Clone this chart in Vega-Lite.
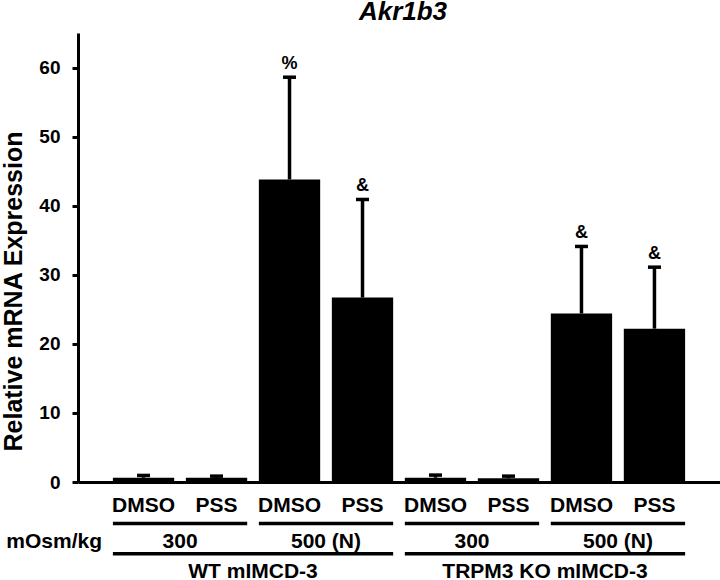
{
  "$schema": "https://vega.github.io/schema/vega-lite/v6.json",
  "width": 642,
  "height": 449,
  "autosize": {"type": "none"},
  "padding": {"left": 78, "top": 33, "right": 0, "bottom": 98},
  "background": "white",
  "config": {"view": {"stroke": null}, "font": "Liberation Sans"},
  "title": {"text": "Akr1b3", "font": "Liberation Sans", "fontSize": 26, "fontWeight": "bold", "fontStyle": "italic", "anchor": "middle", "baseline": "bottom", "offset": 6, "dy": 24, "dx": 4, "frame": "group", "color": "black"},
  "datasets": {
    "bars": [
      {"cond": "WT|300", "trt": "DMSO", "mean": 0.62, "upper": 0.95},
      {"cond": "WT|300", "trt": "PSS", "mean": 0.6, "upper": 0.85},
      {"cond": "WT|500", "trt": "DMSO", "mean": 43.8, "upper": 58.6, "note": "%"},
      {"cond": "WT|500", "trt": "PSS", "mean": 26.7, "upper": 40.9, "note": "&"},
      {"cond": "KO|300", "trt": "DMSO", "mean": 0.62, "upper": 1.0},
      {"cond": "KO|300", "trt": "PSS", "mean": 0.55, "upper": 0.85},
      {"cond": "KO|500", "trt": "DMSO", "mean": 24.4, "upper": 34.1, "note": "&"},
      {"cond": "KO|500", "trt": "PSS", "mean": 22.2, "upper": 31.1, "note": "&"}
    ],
    "groups": [
      {"cond": "WT|300", "osm": "300"},
      {"cond": "WT|500", "osm": "500 (N)"},
      {"cond": "KO|300", "osm": "300"},
      {"cond": "KO|500", "osm": "500 (N)"}
    ],
    "lines": [
      {"a": "WT|300", "b": "WT|500", "line": "WT mIMCD-3"},
      {"a": "KO|300", "b": "KO|500", "line": "TRPM3 KO mIMCD-3"}
    ],
    "rowlab": [{"cond": "WT|300", "label": "mOsm/kg"}]
  },
  "layer": [
    {
      "data": {"name": "bars"},
      "mark": {"type": "bar", "color": "black"},
      "encoding": {
        "x": {"field": "cond", "type": "nominal", "sort": null, "title": null,
          "scale": {"domain": ["WT|300", "WT|500", "KO|300", "KO|500"], "paddingInner": 0, "paddingOuter": 0.199},
          "axis": {"title": null, "labels": false, "ticks": false, "domainWidth": 3, "domainColor": "black", "grid": false}},
        "xOffset": {"field": "trt", "type": "nominal", "scale": {"domain": ["DMSO", "PSS"], "paddingInner": 0.16, "paddingOuter": 0.08}},
        "y": {"field": "mean", "type": "quantitative", "title": "Relative mRNA Expression",
          "scale": {"domain": [0, 65], "nice": false},
          "axis": {"title": "Relative mRNA Expression", "values": [0, 10, 20, 30, 40, 50, 60], "grid": false,
            "domainWidth": 3, "domainColor": "black", "tickColor": "black", "tickWidth": 3, "tickSize": 6,
            "labelFont": "Liberation Sans", "labelFontSize": 19, "labelFontWeight": "bold", "labelColor": "black", "labelPadding": 12,
            "titleFont": "Liberation Sans", "titleFontSize": 25, "titleFontWeight": "bold", "titleColor": "black", "titlePadding": 12, "titleY": 258}}
      }
    },
    {
      "data": {"name": "bars"},
      "mark": {"type": "rule", "color": "black", "strokeWidth": 3.5},
      "encoding": {
        "x": {"field": "cond", "type": "nominal", "sort": null, "title": null},
        "xOffset": {"field": "trt", "type": "nominal"},
        "y": {"field": "mean", "type": "quantitative", "title": "Relative mRNA Expression"},
        "y2": {"field": "upper"}
      }
    },
    {
      "data": {"name": "bars"},
      "mark": {"type": "tick", "color": "black", "thickness": 3.5, "size": 13, "opacity": 1},
      "encoding": {
        "x": {"field": "cond", "type": "nominal", "sort": null, "title": null},
        "xOffset": {"field": "trt", "type": "nominal"},
        "y": {"field": "upper", "type": "quantitative", "title": "Relative mRNA Expression"}
      }
    },
    {
      "data": {"name": "bars"},
      "transform": [{"filter": "isValid(datum.note)"}],
      "mark": {"type": "text", "color": "black", "font": "Liberation Sans", "fontSize": 18, "fontWeight": "bold", "baseline": "alphabetic", "dy": -8},
      "encoding": {
        "x": {"field": "cond", "type": "nominal", "sort": null, "title": null},
        "xOffset": {"field": "trt", "type": "nominal"},
        "y": {"field": "upper", "type": "quantitative", "title": "Relative mRNA Expression"},
        "text": {"field": "note"}
      }
    },
    {
      "data": {"name": "bars"},
      "mark": {"type": "text", "color": "black", "font": "Liberation Sans", "fontSize": 21, "fontWeight": "bold", "baseline": "alphabetic"},
      "encoding": {
        "x": {"field": "cond", "type": "nominal", "sort": null, "title": null},
        "xOffset": {"field": "trt", "type": "nominal"},
        "y": {"datum": -4.4, "type": "quantitative", "title": "Relative mRNA Expression"},
        "text": {"field": "trt"}
      }
    },
    {
      "data": {"name": "groups"},
      "mark": {"type": "rule", "color": "black", "strokeWidth": 3.5},
      "encoding": {
        "x": {"field": "cond", "type": "nominal", "sort": null, "bandPosition": 0.04, "title": null},
        "x2": {"field": "cond", "bandPosition": 0.96},
        "y": {"datum": -6.0, "type": "quantitative", "title": "Relative mRNA Expression"}
      }
    },
    {
      "data": {"name": "groups"},
      "mark": {"type": "text", "color": "black", "font": "Liberation Sans", "fontSize": 21, "fontWeight": "bold", "baseline": "alphabetic"},
      "encoding": {
        "x": {"field": "cond", "type": "nominal", "sort": null, "title": null},
        "y": {"datum": -9.6, "type": "quantitative", "title": "Relative mRNA Expression"},
        "text": {"field": "osm"}
      }
    },
    {
      "data": {"name": "rowlab"},
      "mark": {"type": "text", "color": "black", "font": "Liberation Sans", "fontSize": 21, "fontWeight": "bold", "baseline": "alphabetic", "align": "right", "dx": -5},
      "encoding": {
        "x": {"field": "cond", "type": "nominal", "sort": null, "bandPosition": 0, "title": null},
        "y": {"datum": -9.6, "type": "quantitative", "title": "Relative mRNA Expression"},
        "text": {"field": "label"}
      }
    },
    {
      "data": {"name": "lines"},
      "mark": {"type": "rule", "color": "black", "strokeWidth": 3.5},
      "encoding": {
        "x": {"field": "a", "type": "nominal", "sort": null, "bandPosition": 0.04, "title": null},
        "x2": {"field": "b", "bandPosition": 0.96},
        "y": {"datum": -10.4, "type": "quantitative", "title": "Relative mRNA Expression"}
      }
    },
    {
      "data": {"name": "lines"},
      "mark": {"type": "text", "color": "black", "font": "Liberation Sans", "fontSize": 21, "fontWeight": "bold", "baseline": "alphabetic"},
      "encoding": {
        "x": {"field": "a", "type": "nominal", "sort": null, "bandPosition": 1, "title": null},
        "y": {"datum": -13.85, "type": "quantitative", "title": "Relative mRNA Expression"},
        "text": {"field": "line"}
      }
    }
  ]
}
